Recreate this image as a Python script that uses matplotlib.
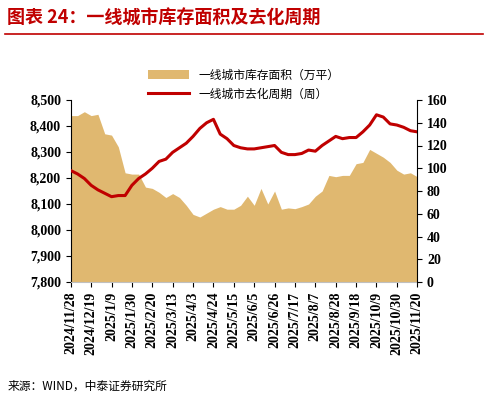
import datetime as dt

import matplotlib

matplotlib.use("Agg")
import matplotlib.pyplot as plt  # noqa: E402
import matplotlib.dates as mdates  # noqa: E402

plt.rcParams["font.family"] = ["Noto Sans CJK SC", "DejaVu Sans"]

# weekly data, 2024/11/28 .. 2025/11/20
inventory = [8440, 8440, 8455, 8440, 8445, 8370, 8365, 8320, 8220, 8215, 8215, 8165, 8160,
             8145, 8125, 8140, 8125, 8095, 8060, 8050, 8065, 8080, 8090, 8080, 8080, 8095,
             8130, 8095, 8160, 8100, 8150, 8080, 8085, 8082, 8090, 8100, 8130, 8150, 8210,
             8205, 8210, 8210, 8255, 8260, 8310, 8295, 8280, 8260, 8230, 8215, 8220, 8205]
cycle = [98, 95, 91, 85, 81, 78, 75, 76, 76, 85, 91, 95, 100, 106, 108, 114, 118, 122,
         128, 135, 140, 143, 130, 126, 120, 118, 117, 117, 118, 119, 120, 114, 112, 112,
         113, 116, 115, 120, 124, 128, 126, 127, 127, 132, 138, 147, 145, 139, 138, 136,
         133, 132]
start = dt.date(2024, 11, 28)
dates = [start + dt.timedelta(weeks=i) for i in range(len(inventory))]

fig = plt.figure(figsize=(4.88, 4.0), dpi=100)
ax = fig.add_axes([0.145, 0.295, 0.71, 0.455])
ax.fill_between(dates, 7800, inventory, color="#E0B870", linewidth=0, label="一线城市库存面积（万平）")
ax.set_ylim(7800, 8500)
ax.set_yticks(range(7800, 8501, 100))
ax.set_yticklabels([f"{v:,}" for v in range(7800, 8501, 100)])
ax.set_xlim(dates[0], dates[-1])
ax.set_xticks(dates[::3])
ax.xaxis.set_major_formatter(mdates.DateFormatter("%Y/%-m/%-d"))

ax2 = ax.twinx()
ax2.plot(dates, cycle, color="#C00000", linewidth=2.2, label="一线城市去化周期（周）")
ax2.set_ylim(0, 160)
ax2.set_yticks(range(0, 161, 20))

for a in (ax, ax2):
    for s in a.spines.values():
        s.set_visible(False)
    a.tick_params(labelsize=10)
    for lab in a.get_yticklabels():
        lab.set_fontweight("bold")
        lab.set_family("Liberation Serif")
for lab in ax.get_xticklabels():
    lab.set_rotation(90)
    lab.set_fontweight("bold")
    lab.set_family("Liberation Serif")
    lab.set_fontsize(10)
ax.spines["left"].set_visible(True)
ax.spines["bottom"].set_visible(True)
ax.spines["bottom"].set_color("#BFBFBF")
ax2.spines["right"].set_visible(True)

h1, l1 = ax.get_legend_handles_labels()
h2, l2 = ax2.get_legend_handles_labels()
fig.legend(h1 + h2, l1 + l2, loc="upper center", bbox_to_anchor=(0.5, 0.855), ncol=1,
           frameon=False, fontsize=8.5, handlelength=3.5)

fig.text(0.015, 0.955, "图表 24：一线城市库存面积及去化周期", color="#C00000", fontsize=13,
         fontweight="bold", style="italic", va="center")
fig.add_artist(plt.Line2D([0.01, 0.99], [0.915, 0.915], color="#C00000", linewidth=1.2))
fig.text(0.015, 0.035, "来源：WIND，中泰证券研究所", fontsize=8.5, va="center")

fig.savefig("out.png", dpi=100)
